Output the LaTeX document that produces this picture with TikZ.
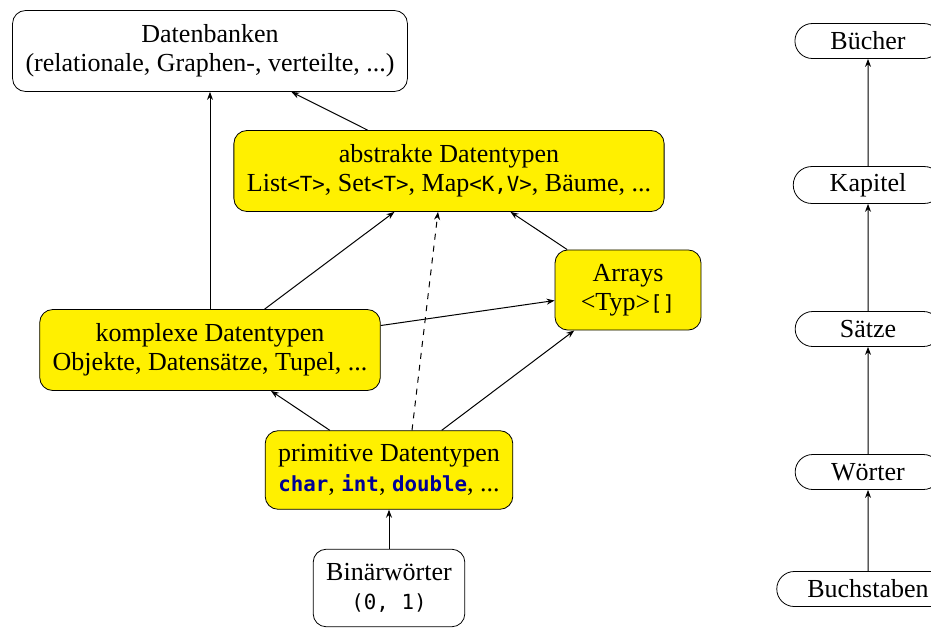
\documentclass[tikz,border=0pt]{standalone}
\usepackage{fontspec}
\setmainfont{Liberation Serif}
\setmonofont[Scale=0.8]{DejaVu Sans Mono}
\usetikzlibrary{shapes.misc,arrows.meta}
\definecolor{kwblue}{RGB}{0,0,150}
\definecolor{boxyellow}{RGB}{255,240,0}
\newcommand{\kw}[1]{\textcolor{kwblue}{\textbf{\texttt{#1}}}}
% pad short words to a common width
\newcommand{\lvltext}[1]{\setbox0\hbox{#1}\ifdim\wd0<42.5pt\hbox to 42.5pt{\hss#1\hss}\else\box0\fi}

\begin{document}
\begin{tikzpicture}[x=0.5pt,y=-0.5pt,
    grp/.style={draw, rounded corners=6.5pt, align=center, inner xsep=6.5pt, inner ysep=7pt,
      minimum width=73pt, font=\fontsize{13}{14.7}\selectfont},
    yel/.style={fill=boxyellow},
    lvl/.style={draw, rounded rectangle, inner xsep=14pt, minimum height=17.5pt,
      font=\fontsize{13}{14.7}\selectfont},
    pfeil/.style={-{Stealth[length=4pt,width=3pt]}, line width=0.5pt}]
        \useasboundingbox (0,0) rectangle (931,628);

        %% type hierarchy
        \node[grp] (db) at (210,51) {Datenbanken\\(relationale, Graphen-, verteilte, ...)};
        \node[grp,yel] (adt) at (449,171) {abstrakte Datentypen\\List\texttt{<T>}, Set\texttt{<T>}, Map\texttt{<K,V>}, Bäume, ...};
        \node[grp,yel] (arr) at (628,290) {Arrays\\<Typ>\texttt{[]}};
        \node[grp,yel] (kdt) at (210,350) {komplexe Datentypen\\Objekte, Datensätze, Tupel, ...};
        \node[grp,yel] (pdt) at (389,470) {primitive Datentypen\\\kw{char}, \kw{int}, \kw{double}, ...};
        \node[grp] (bin) at (389,588) {Binärwörter\\\texttt{(0, 1)}};

        %% text hierarchy
        \foreach \nm/\txt/\y in {buch/Bücher/41, kap/Kapitel/185, satz/Sätze/329, wort/Wörter/472, zeich/Buchstaben/589}
            \node[lvl] (\nm) at (868,\y) {\lvltext{\txt}};

        % arrows
        \draw[pfeil] (kdt) -- (db);
        \draw[pfeil] (adt) -- (db);
        \draw[pfeil] (kdt) -- (adt);
        \draw[pfeil] (arr) -- (adt);
        \draw[pfeil] (kdt) -- (arr);
        \draw[pfeil,dashed] ([xshift=11.5pt]pdt.north) -- ([xshift=-5.5pt]adt.south);
        \draw[pfeil] (pdt) -- (kdt);
        \draw[pfeil] (pdt) -- (arr);
        \draw[pfeil] (bin) -- (pdt);
        \foreach \a/\b in {zeich/wort, wort/satz, satz/kap, kap/buch}
            \draw[pfeil] (\a) -- (\b);
    \end{tikzpicture}
\end{document}
